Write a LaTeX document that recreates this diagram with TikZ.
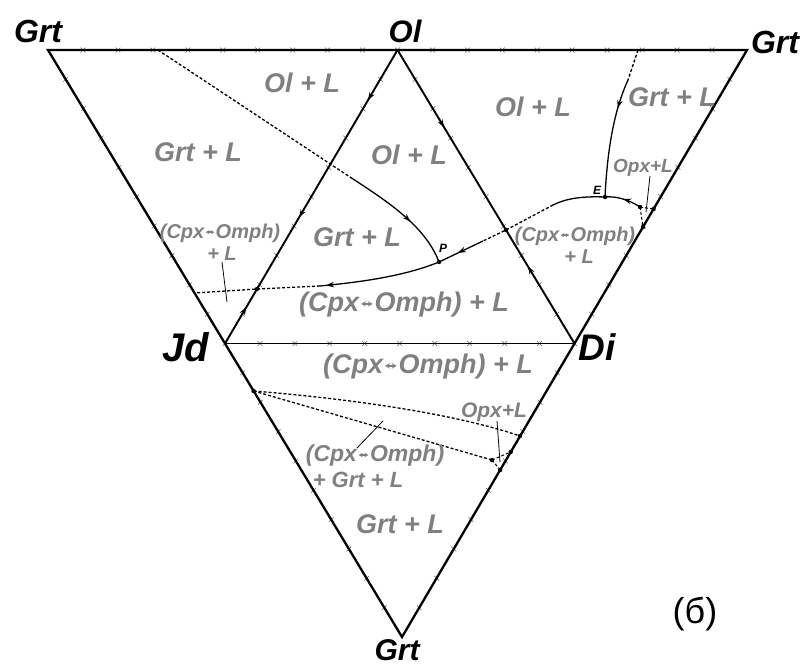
\documentclass[tikz,border=0pt]{standalone}
\usepackage{fontspec}
\setmainfont{Liberation Sans}
\usetikzlibrary{calc,decorations.markings,arrows.meta}
\definecolor{lbl}{RGB}{128,128,128}
\definecolor{tk}{RGB}{105,105,105}
\newcommand\fz[1]{\fontsize{#1}{#1}\selectfont}
\newcommand\dblarr{\hspace{0.04em}\tikz[baseline=-0.3em]\draw[lbl,line width=0.07em,{Stealth[length=0.17em,width=0.2em]}-{Stealth[length=0.17em,width=0.2em]}] (0,0)--(0.42em,0);\hspace{0.04em}}
\begin{document}
\begin{tikzpicture}[x=1pt,y=-1pt,
  edge/.style={line width=2.3pt,line join=miter},
  inedge/.style={line width=1.9pt},
  curve/.style={line width=1.3pt},
  dsh/.style={line width=1.3pt,dash pattern=on 3pt off 2pt},
  leader/.style={line width=0.8pt},
  tickmark/.style={tk,line width=0.55pt},
  vlab/.style={font=\bfseries\itshape,text=black,inner sep=0pt},
  rlab/.style={font=\bfseries\itshape,text=lbl,inner sep=0pt},
  tip/.tip={Stealth[length=8pt,width=5.5pt]},
  arrat/.style={postaction={decorate},decoration={markings,mark=at position #1 with {\arrow{tip}}}},
  arrtwo/.style 2 args={postaction={decorate},decoration={markings,mark=at position #1 with {\arrow{tip}},mark=at position #2 with {\arrow{tip}}}}]
\useasboundingbox (0,0) rectangle (800,667);
% main corners
\coordinate (A) at (48,50);
\coordinate (B) at (747,50);
\coordinate (C) at (402,637);
\coordinate (Ol) at ($(A)!0.5!(B)$);
\coordinate (Jd) at ($(A)!0.5!(C)$);
\coordinate (Di) at ($(B)!0.5!(C)$);
% curve points
\coordinate (t1) at (158,50);
\coordinate (c1) at (350,177);
\coordinate (P) at (439,262);
\coordinate (c2) at (320,286);
\coordinate (X1) at (257,289);
\coordinate (L2) at (194.5,293);
\coordinate (E) at (605,197);
\coordinate (c3) at (553,205);
\coordinate (X2) at (506,230);
\coordinate (c4) at (483,241);
\coordinate (Q1) at (640,207);
\coordinate (R1) at (653.6,209);
\coordinate (R2) at (643,227);
\coordinate (t2) at (638,50);
\coordinate (c5) at (628,80);
\coordinate (L1) at (253.6,391);
\coordinate (U1) at (520,436);
\coordinate (Q2) at (492,460);
\coordinate (R3) at (510.7,452);
\coordinate (R4) at (500.2,470);
% ticks
\foreach \p/\q in {A/B,B/C,C/A}{
  \foreach \i in {1,...,19}{
    \draw[tickmark] ($(\p)!\i/20!(\q)$) +(-2.4,-2.4) -- +(2.4,2.4) +(-2.4,2.4) -- +(2.4,-2.4);
  }
}
\foreach \p/\q in {Ol/Jd,Jd/Di,Di/Ol}{
  \foreach \i in {1,...,9}{
    \draw[tickmark] ($(\p)!\i/10!(\q)$) +(-2.4,-2.4) -- +(2.4,2.4) +(-2.4,2.4) -- +(2.4,-2.4);
  }
}
% edges
\draw[edge] (A) -- (B) -- (C) -- cycle;
\draw[inedge] (Jd) -- (Di);
\draw[inedge,arrtwo={0.21}{0.70}] (Ol) -- (X1);
\draw[inedge,arrat=0.67] (Jd) -- (X1);
\draw[inedge,arrat=0.43] (Ol) -- (X2);
\draw[inedge,arrat=0.68] (Di) -- (X2);
% curve Grt/Ol to P
\draw[dsh] (t1) -- (c1);
\draw[curve,arrat=0.6] (c1) .. controls (385,200) and (425,225) .. (P);
% P to left edge
\draw[curve,arrat=0.95] (P) .. controls (400,278) and (350,283) .. (c2);
\draw[dsh] (c2) -- (X1) -- (L2);
% E to P
\draw[curve] (E) .. controls (580,196) and (565,199) .. (c3);
\draw[dsh] (c3) -- (X2) -- (c4);
\draw[curve,arrat=0.57] (c4) -- (P);
% right small region
\draw[curve,arrat=0.5] (Q1) .. controls (628,199) and (615,196) .. (E);
\draw[dsh,line width=1pt] (Q1) -- (R1);
\draw[dsh,line width=1pt] (Q1) -- (R2);
% top to E
\draw[dsh] (t2) -- (c5);
\draw[curve,arrat=0.25] (c5) .. controls (618,102) and (608,135) .. (E);
% bottom triangle
\draw[dsh] (L1) .. controls (340,398) and (450,412) .. (U1);
\draw[dsh] (L1) -- (Q2);
\draw[dsh,line width=1pt] (Q2) -- (R3);
\draw[dsh,line width=1pt] (Q2) -- (R4);
% dots
\foreach \d in {P,E,X1,X2,Q1,R1,R2,L1,U1,Q2,R3,R4}{\fill (\d) circle (2.2pt);}
% leaders
\coordinate (ld1a) at (650,176); \coordinate (ld1b) at (646,212);
\coordinate (ld2a) at (222,262); \coordinate (ld2b) at (227,302);
\coordinate (ld3a) at (497,421); \coordinate (ld3b) at (500,462);
\coordinate (ld4a) at (357,448); \coordinate (ld4b) at (383,421);
\draw[leader] (ld1a) -- (ld1b);
\draw[leader] (ld2a) -- (ld2b);
\draw[leader] (ld3a) -- (ld3b);
\draw[leader] (ld4a) -- (ld4b);
% vertex labels
\node[vlab,font=\fz{32}\bfseries\itshape] (nGa) at (38,31) {Grt};
\node[vlab,font=\fz{31}\bfseries\itshape] (nOl) at (405,31) {Ol};
\node[vlab,font=\fz{32}\bfseries\itshape] (nGb) at (775,42) {Grt};
\node[vlab,font=\fz{40}\bfseries\itshape] (nJd) at (186,347) {Jd};
\node[vlab,font=\fz{37}\bfseries\itshape] (nDi) at (597,347) {Di};
\node[vlab,font=\fz{30}\bfseries\itshape] (nGc) at (397,650) {Grt};
\node[vlab,font=\fz{12}\bfseries\itshape] (nP) at (443,248) {P};
\node[vlab,font=\fz{12}\bfseries\itshape] (nE) at (597,190) {E};
% region labels
\node[rlab,font=\fz{27}\bfseries\itshape] (r1) at (302,83) {Ol + L};
\node[rlab,font=\fz{27}\bfseries\itshape] (r2) at (198,152) {Grt + L};
\node[rlab,font=\fz{27}\bfseries\itshape] (r3) at (409,155) {Ol + L};
\node[rlab,font=\fz{27}\bfseries\itshape] (r4) at (533,107) {Ol + L};
\node[rlab,font=\fz{27}\bfseries\itshape] (r5) at (672,97) {Grt + L};
\node[rlab,font=\fz{19}\bfseries\itshape] (r6) at (643,168) {Opx+L};
\node[rlab,font=\fz{27}\bfseries\itshape] (r7) at (357,237) {Grt + L};
\node[rlab,font=\fz{20}\bfseries\itshape] (r8) at (220,233) {(Cpx\dblarr Omph)};
\node[rlab,font=\fz{20}\bfseries\itshape] (r9) at (222,254) {+ L};
\node[rlab,font=\fz{27}\bfseries\itshape] (r10) at (404,305) {(Cpx\dblarr Omph) + L};
\node[rlab,font=\fz{20}\bfseries\itshape] (r11) at (575,236) {(Cpx\dblarr Omph)};
\node[rlab,font=\fz{20}\bfseries\itshape] (r12) at (579,257) {+ L};
\node[rlab,font=\fz{27}\bfseries\itshape] (r13) at (428,367) {(Cpx\dblarr Omph) + L};
\node[rlab,font=\fz{21}\bfseries\itshape] (r14) at (494,412) {Opx+L};
\node[rlab,font=\fz{23}\bfseries\itshape] (r15) at (375,456) {(Cpx\dblarr Omph)};
\node[rlab,font=\fz{22}\bfseries\itshape] (r16) at (358,480) {+ Grt + L};
\node[rlab,font=\fz{27}\bfseries\itshape] (r17) at (400,524) {Grt + L};
\node[inner sep=0pt,font=\fz{36}] (lab) at (695,614) {(б)};
\end{tikzpicture}
\end{document}
